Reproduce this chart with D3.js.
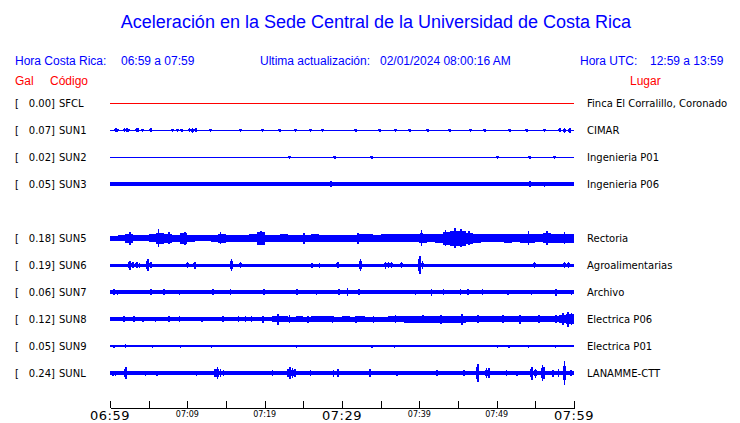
<!DOCTYPE html>
<html><head><meta charset="utf-8">
<script src="https://cdn.jsdelivr.net/npm/d3@7"></script>
<style>
html,body{margin:0;padding:0;background:#fff;}
svg{display:block;}
</style></head>
<body>
<svg id="chart" width="740" height="423"></svg>
<script>
// ---------------- DATA ----------------
const rowOrder = ["SFCL","SUN1","SUN2","SUN3","SUN4","SUN5","SUN6","SUN7","SUN8","SUN9","SUNL"]; // SUN4 slot empty
const stations = ["SFCL","SUN1","SUN2","SUN3","SUN5","SUN6","SUN7","SUN8","SUN9","SUNL"];
const galValues = ["0.00","0.07","0.02","0.05","0.18","0.19","0.06","0.12","0.05","0.24"];
const places = ["Finca El Corralillo, Coronado","CIMAR","Ingenieria P01","Ingenieria P06","Rectoria","Agroalimentarias","Archivo","Electrica P06","Electrica P01","LANAMME-CTT"];
const baseAmp = [0.5,0.5,0.5,1.8,null,1.5,1.7,null,0.7,2];

const sun5Env = [2.5,3,4.5,3.2,3.2,4,5.5,4.5,3.5,5.5,3.5,3.2,3.2,3.5,4.5,3.5,3.5,3.5,4,6.5,3.5,3.5,4,3.5,3.5,3.5,4,3.5,3.5,3.5,
                 3.5,3.5,4,4,3.5,4,4,4,4,4,4.5,4,4.5,6.5,7.5,7.5,5.5,4.5,4,4,4,4.5,4,4.5,4.5,4,5,4.5,4.5,4.5];
const sun8Env = [1.7,1.7,1.7,1.7,1.7,1.7,1.7,1.7,1.7,1.7,1.7,1.7,1.7,1.7,1.7,1.7,1.7,1.7,1.7,1.7,2,3,3,2.5,3,2.5,3,3,3,2.5,
                 3,2.5,3,2.5,2.5,2.5,3,3,3.5,3.5,3.5,3.5,3.5,3.5,3.5,3.5,3,3,3,3,3,3,3,3,3,3,3,3,4,5];

const sfclEvents = [];
const sun1Events = [[0.7,2],[0.9,1.5],[1.8,2],[2.1,2],[2.3,1.5],[3.3,2],[3.5,2],[4.1,1.5],[5.2,2],[8,1.5],[8.6,1.5],[9.2,1.5],[10.2,2],[10.6,2.5],[11,2],
  [12.9,1.5],[16.8,1.5],[19.6,1.5],[21.9,1.5],[23.9,1.5],[25.8,1.5],[27.4,1.5],[31.7,1.5],[34.8,1.5],[36.8,1.5],[38.7,1.5],[41,1.5],[43.9,1.5],[46.5,1.5],[48.4,1.5],[51.6,1.5],[53.8,1.5],[56.1,1.5],[58.1,2],[58.7,2.5],[59.4,2.5]];
const sun2Events = [[23.1,1.5],[29,1.5],[33.8,1.5],[50,1.5],[54.2,1.5],[57.4,1.5]];
const sun3Events = [[28.5,3],[54.2,3],[56.1,2.5],[7.5,2.2],[41,2.2]];
const sun5Events = [[2.5,6.5],[6.2,9],[7.5,6],[9.6,6.5],[14.2,6],[19.4,7],[40.2,8],[44.5,10],[45.3,9],[54,7],[56.4,7],[43.3,8],[46.3,7],[25,5.5],[32,5.5],[58.7,6]];
const sun6Events = [[2.5,4.5],[2.9,3],[3.4,3],[3.7,2.5],[4.8,6],[5.2,3],[9.9,3],[10.9,3.5],[15.6,6],[16.8,3],[26,2.5],[27,2.5],[29.4,3],[32.3,6],[35.5,3.5],[35.9,3],[36.3,3],[37.6,3],[40,9.3],[40.3,4],[54.8,3],[58.7,3],[59.2,3]];
const sun7Events = [[0.4,3],[0.9,2.5],[5.2,3],[6.9,3],[8.9,2.5],[13.2,3],[15.5,3],[19.8,3],[24.1,3],[26.6,2.5],[29.5,3],[30.6,4],[32.1,3],[39.4,2.5],[41.5,3.5],[43,3],[45.2,3],[46.2,3],[48.1,3],[51.4,2.5],[54.4,2.5],[57.6,3.5],[59.6,2.5]];
const sun8Events = [[1.7,3],[3,3],[4.2,2.5],[5.8,2.5],[7.5,3],[8.9,3],[11.8,2.5],[14.5,3],[16.5,3],[17.4,3],[18.2,3],[19.7,3.5],[21.6,5.5],[23.1,4],[25.5,3.5],[28.7,3.5],[31.7,3.5],[34,3.5],[36.8,4],[40.4,4],[42.7,4.5],[45.4,5.5],[47.5,4],[50.7,4],[52.9,4.5],[55.4,4],[57.6,4],[58.5,6],[59.1,7.5],[59.6,6]];
const sun9Events = [[0.4,1.5],[1.9,2.2],[5.4,1.5],[9,1.5],[13,1.5],[24,1.5],[33.8,1.5],[36.7,1.5],[50,1.5],[51.5,1.5],[54,1.5],[57.5,1.5]];
const sunlEvents = [[0.3,2.5],[0.6,2.5],[2,6.3],[4.5,2.5],[6,2.5],[11.1,2.5],[13.8,6],[13.5,4],[14.2,4],[14.6,3],[20.9,3],[22.9,4],[23.2,6],[23.5,5],[23.8,4],[25.8,3],[28.8,3.5],[29.4,4],[33.5,4],[37,2.5],[42.2,3],[45.7,3],[47.5,9.3],[48.6,5],[48.9,5],[51.2,3],[52.5,2.5],[54.5,6.5],[54.9,4.5],[55.8,7.8],[56,6],[57.2,3.5],[57.9,4],[58.7,11.8],[59.5,3]];

const envelopes = [null,null,null,null,sun5Env,null,null,sun8Env,null,null];
const events = [sfclEvents,sun1Events,sun2Events,sun3Events,sun5Events,sun6Events,sun7Events,sun8Events,sun9Events,sunlEvents];

const tickMinutes = [0,5,10,15,20,25,30,35,40,45,50,55,60];
const tickLabels = ["06:59","","07:09","","07:19","","07:29","","07:39","","07:49","","07:59"];
const bigTicks = ["06:59","07:29","07:59"];

const title = "Aceleración en la Sede Central de la Universidad de Costa Rica";
const hdrLocal = ["Hora Costa Rica:","06:59 a 07:59"];
const hdrUpdate = ["Ultima actualización:","02/01/2024 08:00:16 AM"];
const hdrUTC = ["Hora UTC:","12:59 a 13:59"];

// ---------------- DRAW ----------------
const svg = d3.select("#chart");
const BLUE = "#0000ff", RED = "#ff0000";
const sansH = "'Liberation Sans', Arial, sans-serif";
const sansD = "'DejaVu Sans', sans-serif";

const x = d3.scaleLinear().domain([0,60]).range([110,574]);
const y = d3.scalePoint().domain(rowOrder).range([103,373]);
const amp = d3.scaleLinear().domain([0,12]).range([0,12]);

// title
svg.append("text").attr("x",376).attr("y",28).attr("text-anchor","middle")
  .attr("font-family",sansH).attr("font-size",18).attr("fill",BLUE).text(title);

const hdr = svg.append("g").attr("font-family",sansH).attr("font-size",12).attr("fill",BLUE);
hdr.append("text").attr("x",15).attr("y",65).text(hdrLocal[0]);
hdr.append("text").attr("x",121).attr("y",65).text(hdrLocal[1]);
hdr.append("text").attr("x",260).attr("y",65).text(hdrUpdate[0]);
hdr.append("text").attr("x",380).attr("y",65).text(hdrUpdate[1]);
hdr.append("text").attr("x",580).attr("y",65).text(hdrUTC[0]);
hdr.append("text").attr("x",650).attr("y",65).text(hdrUTC[1]);

const hdr2 = svg.append("g").attr("font-family",sansH).attr("font-size",12).attr("fill",RED);
hdr2.append("text").attr("x",15).attr("y",85).text("Gal");
hdr2.append("text").attr("x",50).attr("y",85).text("Código");
hdr2.append("text").attr("x",630).attr("y",85).text("Lugar");

// traces
const traces = svg.append("g").attr("shape-rendering","crispEdges");
stations.forEach((s,i)=>{
  const cy = y(s);
  const col = i===0 ? RED : BLUE;
  const g = traces.append("g").attr("fill",col);
  const env = envelopes[i];
  let base;
  if (env) {
    g.selectAll("rect.env").data(env).join("rect").attr("class","env")
      .attr("x",(d,m)=>x(m)).attr("width",(d,m)=>x(m+1)-x(m))
      .attr("y",d=>cy-amp(d)).attr("height",d=>2*amp(d));
    base = d3.min(env);
  } else {
    base = baseAmp[i];
    const h = Math.max(1, 2*amp(base));
    g.append("rect").attr("x",x(0)).attr("width",x(60)-x(0))
      .attr("y",cy-h/2).attr("height",h);
  }
  // bursts: shoulder + spike
  g.selectAll("rect.sh").data(events[i]).join("rect").attr("class","sh")
    .attr("x",d=>x(d[0])-1).attr("width",3)
    .attr("y",d=>cy-amp(Math.max(base,d[1]*0.6))).attr("height",d=>2*amp(Math.max(base,d[1]*0.6)));
  g.selectAll("rect.sp").data(events[i]).join("rect").attr("class","sp")
    .attr("x",d=>x(d[0])).attr("width",1.5)
    .attr("y",d=>cy-amp(d[1])).attr("height",d=>2*amp(d[1]));
});

// left labels
const lab = svg.append("g").attr("font-family",sansD).attr("font-size",10).attr("fill","#000");
stations.forEach((s,i)=>{
  const cy = y(s)+4;
  lab.append("text").attr("x",15).attr("y",cy).text("[");
  lab.append("text").attr("x",55).attr("y",cy).attr("text-anchor","end").text(galValues[i]+"]");
  lab.append("text").attr("x",59).attr("y",cy).text(s);
  lab.append("text").attr("x",587).attr("y",cy).text(places[i]);
});

// axis
const axis = d3.axisBottom(x).tickValues(tickMinutes).tickSize(-7).tickSizeOuter(0).tickFormat("");
const ag = svg.append("g").attr("transform","translate(0,408)").attr("shape-rendering","crispEdges").call(axis);
ag.select(".domain").attr("stroke","#000");
ag.selectAll(".tick line").attr("stroke","#000");
const tl = svg.append("g").attr("font-family",sansD).attr("fill","#000").attr("text-anchor","middle");
tickMinutes.forEach((m,i)=>{
  const t = tickLabels[i];
  if (!t) return;
  const big = bigTicks.includes(t);
  tl.append("text").attr("x",x(m)).attr("y",big?420:417)
    .attr("font-size",big?13:8).attr("letter-spacing",big?0.5:0).text(t);
});
</script>
</body></html>
